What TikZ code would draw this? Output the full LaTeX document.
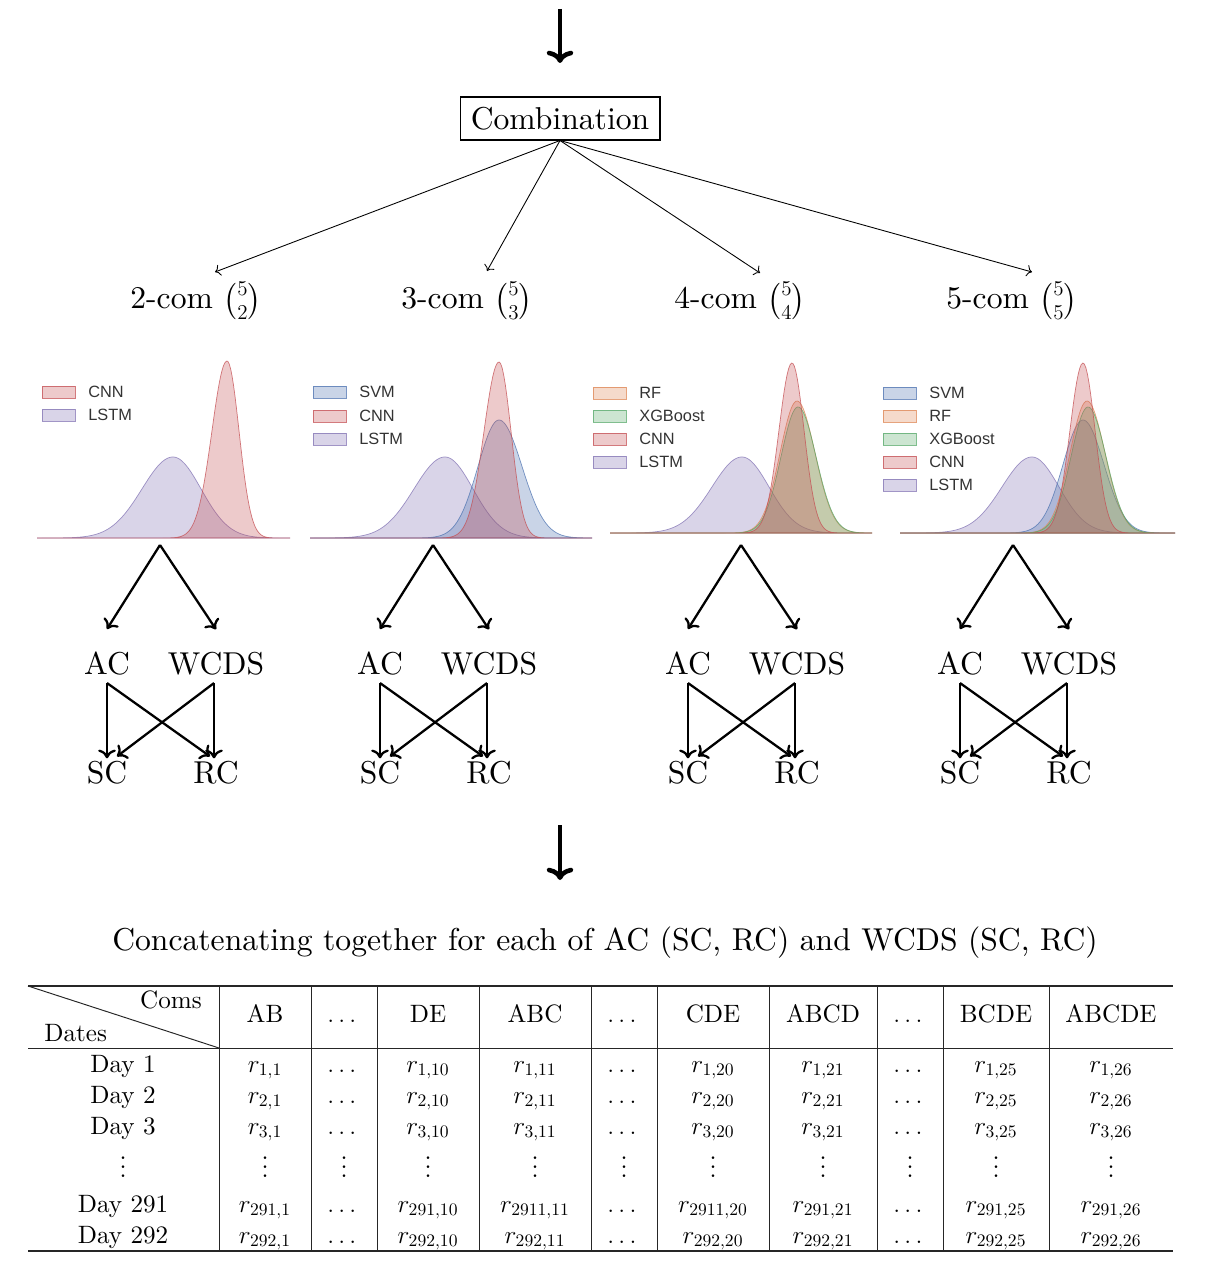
\documentclass[tikz,border=0pt]{standalone}
\usepackage{amsmath}
\usepackage{fontspec}
\setmainfont{lmroman10-regular.otf}
\newfontfamily\legendfont{Liberation Sans}
\usetikzlibrary{arrows.meta}
\definecolor{clstm}{HTML}{8172B3}
\definecolor{ccnn}{HTML}{C44E52}
\definecolor{csvm}{HTML}{4C72B0}
\definecolor{crf}{HTML}{DD8452}
\definecolor{cxgb}{HTML}{55A868}
\definecolor{legtxt}{HTML}{333333}
\tikzset{
  kde/.style={draw=#1, fill=#1, fill opacity=0.3, draw opacity=0.75, line width=0.4pt},
  legtext/.style={font=\legendfont\fontsize{9.3}{11}\selectfont, text=legtxt, inner sep=0pt},
  bigtext/.style={font=\fontsize{18}{22}\selectfont, inner sep=0pt},
  tabtext/.style={font=\fontsize{14.3}{17}\selectfont, inner sep=0pt},
  thinarrow/.style={-{Computer Modern Rightarrow[length=3pt,width=6.5pt]}, line width=0.5pt},
  midarrow/.style={-{Computer Modern Rightarrow[length=5pt,width=10pt]}, line width=1.3pt},
  bigarrow/.style={-{Computer Modern Rightarrow[length=7pt,width=15pt]}, line width=2.6pt},
  tabline/.style={line width=0.55pt, draw=black!85},
  tabrule/.style={line width=0.9pt, draw=black!85}
}
% color, xmin, xmax, base, mean, sigma left, height, sigma right
\newcommand{\kdecurve}[8]{\draw[kde=#1] plot[domain=#2:#3, samples=180] (\x, {#4-#7*exp(-0.5*((\x-#5)/((\x<#5) ? #6 : #8))^2)}) -- cycle;}
\newcommand{\legitem}[5]{\draw[kde=#1] (#2,#3-6) rectangle (#2+33,#3+6);
  \node[legtext, anchor=west] (#5) at (#2+46,#3) {#4};}
\newcommand{\myvdots}{\vbox{\baselineskip5pt\lineskiplimit0pt\hbox{.}\hbox{.}\hbox{.}}}
\newcommand{\trow}[5]{%
  \node[tabtext, anchor=base] (day#3) at (123,#1) {#2};
  \node[tabtext, anchor=base] (r#3a) at (265,#1) {$r_{#3,1}$};
  \node[tabtext, anchor=base] (r#3b) at (344,#1) {$\dots$};
  \node[tabtext, anchor=base] (r#3c) at (428,#1) {$r_{#3,10}$};
  \node[tabtext, anchor=base] (r#3d) at (535,#1) {$r_{#4,11}$};
  \node[tabtext, anchor=base] (r#3e) at (624,#1) {$\dots$};
  \node[tabtext, anchor=base] (r#3f) at (713,#1) {$r_{#5,20}$};
  \node[tabtext, anchor=base] (r#3g) at (823,#1) {$r_{#3,21}$};
  \node[tabtext, anchor=base] (r#3h) at (910,#1) {$\dots$};
  \node[tabtext, anchor=base] (r#3i) at (996,#1) {$r_{#3,25}$};
  \node[tabtext, anchor=base] (r#3j) at (1111,#1) {$r_{#3,26}$};}
\begin{document}
\begin{tikzpicture}[x=0.02cm, y=-0.02cm]
\useasboundingbox (0,0) rectangle (1230,1270);

% top arrow
\coordinate (topA) at (560,9);
\coordinate (topB) at (560,63);
\draw[bigarrow] (topA) -- (topB);

% Combination
\node[draw, line width=0.6pt, minimum width=4cm, minimum height=0.86cm, bigtext] (comb) at (560,118.5) {Combination};

\node[bigtext, anchor=base] (c2) at (196,309) {2-com $\binom{5}{2}$};
\node[bigtext, anchor=base] (c3) at (467,309) {3-com $\binom{5}{3}$};
\node[bigtext, anchor=base] (c4) at (740,309) {4-com $\binom{5}{4}$};
\node[bigtext, anchor=base] (c5) at (1012,309) {5-com $\binom{5}{5}$};
\coordinate (t2) at (215,272);
\coordinate (t3) at (487,271);
\coordinate (t4) at (760,273);
\coordinate (t5) at (1032,272);
\foreach \k in {2,3,4,5} \draw[thinarrow] (comb.south) -- (t\k);

% distribution plots
% plot 1
\kdecurve{clstm}{37}{290}{538}{173}{31}{81}{28}
\kdecurve{ccnn}{37}{290}{538}{227}{15}{177}{12}
\legitem{ccnn}{42}{392}{CNN}{l1a}
\legitem{clstm}{42}{415}{LSTM}{l1b}
% plot 2
\kdecurve{clstm}{310}{592}{538}{445}{31}{81}{28}
\kdecurve{csvm}{310}{592}{538}{499}{21}{118}{23}
\kdecurve{ccnn}{310}{592}{538}{499}{15}{176}{12}
\legitem{csvm}{313}{392}{SVM}{l2a}
\legitem{ccnn}{313}{416}{CNN}{l2b}
\legitem{clstm}{313}{439}{LSTM}{l2c}
% plot 3
\kdecurve{clstm}{610}{872}{533}{742}{30}{76}{27}
\kdecurve{crf}{610}{872}{533}{797}{17}{132}{18}
\kdecurve{cxgb}{610}{872}{533}{798}{17}{126}{18}
\kdecurve{ccnn}{610}{872}{533}{792}{13}{170}{12}
\legitem{crf}{593}{393}{RF}{l3a}
\legitem{cxgb}{593}{416}{XGBoost}{l3b}
\legitem{ccnn}{593}{439}{CNN}{l3c}
\legitem{clstm}{593}{462}{LSTM}{l3d}
% plot 4
\kdecurve{clstm}{900}{1175}{533}{1032}{30}{76}{27}
\kdecurve{csvm}{900}{1175}{533}{1083}{20}{113}{21}
\kdecurve{crf}{900}{1175}{533}{1087}{17}{132}{18}
\kdecurve{cxgb}{900}{1175}{533}{1088}{17}{126}{18}
\kdecurve{ccnn}{900}{1175}{533}{1083}{13}{170}{12}
\legitem{csvm}{883}{393}{SVM}{l4a}
\legitem{crf}{883}{416}{RF}{l4b}
\legitem{cxgb}{883}{439}{XGBoost}{l4c}
\legitem{ccnn}{883}{462}{CNN}{l4d}
\legitem{clstm}{883}{485}{LSTM}{l4e}

% AC / WCDS groups
\foreach \g/\ox in {1/0, 2/273, 3/581, 4/853} {
  \coordinate (apex\g) at (160+\ox,545);
  \node[bigtext, anchor=base] (ac\g) at (107+\ox,674) {AC};
  \node[bigtext, anchor=base] (wc\g) at (216+\ox,674) {WCDS};
  \node[bigtext, anchor=base] (sc\g) at (107+\ox,783) {SC};
  \node[bigtext, anchor=base] (rc\g) at (216+\ox,783) {RC};
  \draw[midarrow] (apex\g) -- ([yshift=0.44cm]ac\g.north);
  \draw[midarrow] (apex\g) -- ([yshift=0.44cm]wc\g.north);
  \draw[midarrow] ([yshift=-0.16cm]ac\g.south) -- ([yshift=0.04cm]sc\g.north);
  \draw[midarrow] ([xshift=-0.04cm,yshift=-0.16cm]wc\g.south) -- ([xshift=-0.04cm,yshift=0.04cm]rc\g.north);
  \draw[midarrow] ([yshift=-0.16cm]ac\g.south) -- ([xshift=-0.12cm,yshift=0.08cm]rc\g.north);
  \draw[midarrow] ([xshift=-0.04cm,yshift=-0.16cm]wc\g.south) -- ([xshift=0.2cm,yshift=0.08cm]sc\g.north);
}

% middle arrow
\coordinate (midA) at (560,825);
\coordinate (midB) at (560,880);
\draw[bigarrow] (midA) -- (midB);

\node[bigtext, anchor=base] (concat) at (605,950) {Concatenating together for each of AC (SC, RC) and WCDS (SC, RC)};

% table
\draw[tabrule] (28,986) -- (1173,986);
\draw[tabline] (28,1048) -- (1173,1048);
\draw[tabrule] (28,1251) -- (1173,1251);
\foreach \xv in {219,311,377,479,591,657,769,877,943,1049}
  \draw[tabline] (\xv,986) -- (\xv,1251);
\draw[tabline] (28,986) -- (219,1048);
\node[tabtext, anchor=base east] (coms) at (202,1008) {Coms};
\node[tabtext, anchor=base west] (dates) at (44,1041) {Dates};
\foreach \xv/\t [count=\n] in {265/AB, 344/$\dots$, 428/DE, 535/ABC, 624/$\dots$, 713/CDE, 823/ABCD, 910/$\dots$, 996/BCDE, 1111/ABCDE}
  \node[tabtext, anchor=base] (h\n) at (\xv,1022) {\t};

\trow{1072}{Day 1}{1}{1}{1}
\trow{1103}{Day 2}{2}{2}{2}
\trow{1134}{Day 3}{3}{3}{3}
\foreach \xv [count=\n] in {123,265,344,428,535,624,713,823,910,996,1111}
  \node[tabtext] (v\n) at (\xv,1167) {\myvdots};
\trow{1212}{Day 291}{291}{2911}{2911}
\trow{1243}{Day 292}{292}{292}{292}
\end{tikzpicture}
\end{document}
